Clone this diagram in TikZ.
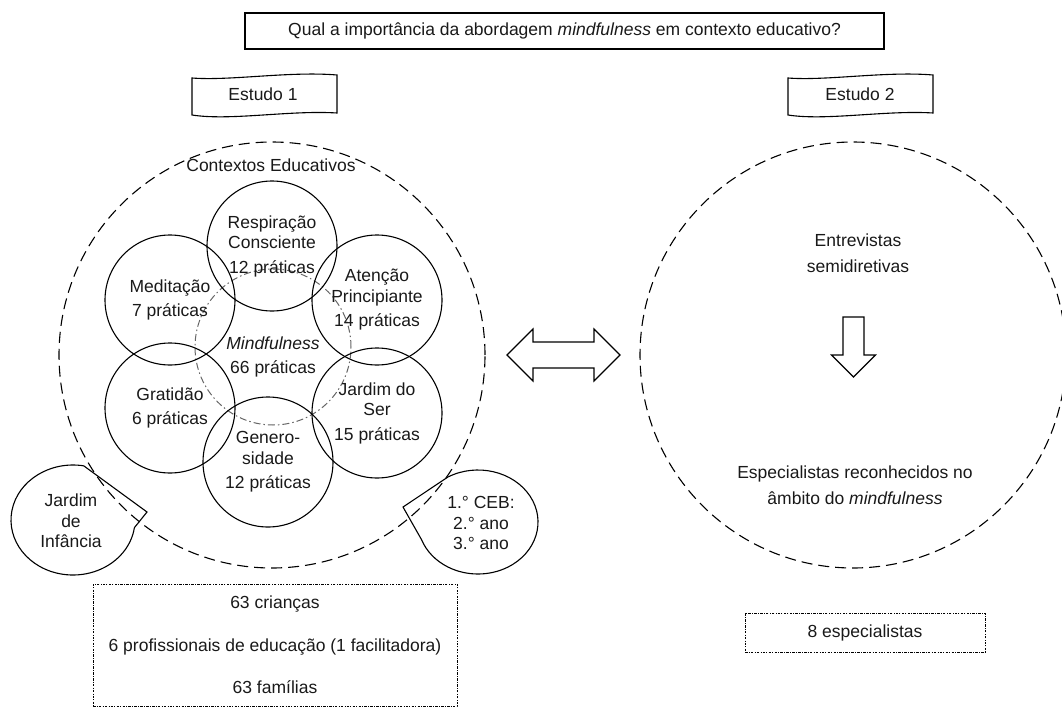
\documentclass[tikz,border=0pt]{standalone}
\usepackage{fontspec}
\setmainfont{Liberation Sans}
\usepackage{tikz}

\begin{document}
\begin{tikzpicture}[x=1pt,y=1pt,
  every node/.style={font=\fontsize{17.5}{20.5}\selectfont,text=black!90,align=center},
  roda/.style={circle,draw,line width=1.1pt,minimum size=130pt,inner sep=0pt},
  contorno/.style={circle,draw,line width=1.1pt,dash pattern=on 11pt off 6pt,minimum size=426pt,inner sep=0pt},
  pontilhado/.style={draw,line width=0.9pt,dash pattern=on 2.5pt off 1.2pt on 1pt off 1.2pt},
  seta/.style={line width=1.1pt,line join=miter}]
\useasboundingbox(0,0)rectangle(1062,-709);
% pergunta e estudos
\node[draw,line width=1.1pt,minimum width=639pt,minimum height=36pt](pergunta)at(564.5,-31){Qual a importância da abordagem \textit{mindfulness} em contexto educativo?};
\draw[line width=1.1pt](192,-78)..controls(230,-81)and(290,-71)..(337,-75)--(337,-113)..controls(290,-110)and(230,-121)..(192,-115)--cycle;
\draw[line width=1.1pt](788,-78)..controls(826,-81)and(886,-71)..(933,-75)--(933,-113)..controls(886,-110)and(826,-121)..(788,-115)--cycle;
\node(estudoA)at(263,-94){Estudo 1};
\node(estudoB)at(860,-94){Estudo 2};
% estudo 1
\node[contorno](contextos)at(272,-355){};
\node(contextosTxt)at(271,-165){Contextos Educativos};
\node[circle,draw=black!60,line width=1pt,dash pattern=on 7pt off 3pt on 1.5pt off 3pt,minimum size=156pt,inner sep=0pt](nucleo)at(273,-347){};
\node(mindfulness)at(273,-357){\textit{Mindfulness}\\[4pt]66 práticas};
\node[roda](respiracao)at(272,-246){Respiração\\Consciente\\[4pt]12 práticas};
\node[roda](meditacao)at(170,-300){Meditação\\[4pt]7 práticas};
\node[roda](atencao)at(377,-300){Atenção\\Principiante\\[4pt]14 práticas};
\node[roda](gratidao)at(170,-408){Gratidão\\[4pt]6 práticas};
\node[roda](jardimSer)at(377,-413){Jardim do\\Ser\\[4pt]15 práticas};
\node[roda](generosidade)at(268,-462){Genero-\\sidade\\[4pt]12 práticas};
% balões
\draw[seta](147,-512)--(83.77,-465.84)arc[start angle=80,end angle=352,x radius=62,y radius=55]--cycle;
\draw[seta](403,-507)--(448,-476.97)arc[start angle=120,end angle=-160,x radius=60,y radius=52]--cycle;
\node(jardim)at(71,-521){Jardim\\de\\Infância};
\node(ceb)at(481,-523){1.° CEB:\\2.° ano\\3.° ano};
\node[pontilhado,minimum width=364pt,minimum height=122pt](participantes)at(275,-645){63 crianças\\[22pt]6 profissionais de educação (1 facilitadora)\\[22pt]63 famílias};
% ligação
\draw[seta](507,-355)--(533,-329)--(533,-342)--(594,-342)--(594,-329)--(620,-355)--(594,-381)--(594,-368)--(533,-368)--(533,-381)--cycle;
% estudo 2
\node[contorno](entrevistasCirc)at(853,-355){};
\node(entrevistas)at(858,-253){Entrevistas\\[6pt]semidiretivas};
\draw[seta](843,-317)--(864,-317)--(864,-355)--(875.5,-355)--(853.5,-377)--(831.5,-355)--(843,-355)--cycle;
\node(reconhecidos)at(855,-485){Especialistas reconhecidos no\\[5pt]âmbito do \textit{mindfulness}};
\node[pontilhado,minimum width=240pt,minimum height=39pt](especialistas)at(865,-632.5){8 especialistas};
\end{tikzpicture}
\end{document}
